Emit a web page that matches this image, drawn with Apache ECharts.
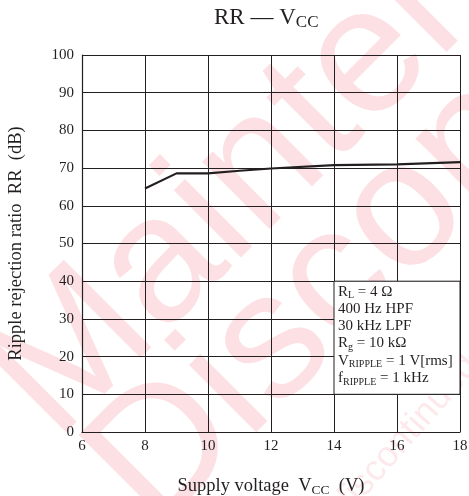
<!DOCTYPE html>
<html>
<head>
<meta charset="utf-8">
<script src="https://cdn.jsdelivr.net/npm/echarts@6/dist/echarts.min.js"></script>
<style>
  html, body { margin: 0; padding: 0; background: #fff; }
  #chart { width: 469px; height: 496px; }
</style>
</head>
<body>
<div id="chart"></div>
<script>
// Supply voltage (V) and measured ripple rejection (dB)
const supplyVoltage = [8, 9, 10, 11, 12, 14, 16, 18];
const rippleRejection = [64.6, 68.6, 68.6, 69.3, 69.9, 70.8, 71.0, 71.6];

// Axis ranges / ticks
const xTicks = { min: 6, max: 18, step: 2 };
const yTicks = { min: 0, max: 100, step: 10 };

// Test-condition box spans VCC 14..18 V and RR 10..40 dB
const conditionBox = { x0: 14, x1: 18, y0: 10, y1: 40 };

const SERIF = '"Liberation Serif", "Times New Roman", serif';
const SANS = '"Liberation Sans", Arial, sans-serif';
const INK = '#231f20';
const STAMP = 'rgba(230,0,30,0.12)';

const chart = echarts.init(document.getElementById('chart'), null, { renderer: 'canvas' });

chart.setOption({
  animation: false,
  backgroundColor: '#fff',
  grid: { left: 82, right: 9, top: 55, bottom: 64, containLabel: false, outerBoundsMode: 'none' },
  xAxis: {
    type: 'value',
    min: xTicks.min, max: xTicks.max, interval: xTicks.step,
    axisLine: { show: true, lineStyle: { color: INK, width: 1.2 } },
    axisTick: { show: false },
    splitLine: { show: true, lineStyle: { color: INK, width: 1 } },
    axisLabel: { color: INK, fontSize: 15, fontFamily: SERIF, margin: 7 },
    name: '{m|Supply voltage  V}{s|CC}{m|  (V)}',
    nameLocation: 'middle',
    nameGap: 44,
    nameTextStyle: {
      rich: {
        m: { fontSize: 18.5, fontFamily: SERIF, color: INK, lineHeight: 20 },
        s: { fontSize: 13.5, fontFamily: SERIF, color: INK, lineHeight: 10, padding: [8, 0, 0, 0] }
      }
    }
  },
  yAxis: {
    type: 'value',
    min: yTicks.min, max: yTicks.max, interval: yTicks.step,
    axisLine: { show: true, lineStyle: { color: INK, width: 1.2 } },
    axisTick: { show: false },
    splitLine: { show: true, lineStyle: { color: INK, width: 1 } },
    axisLabel: { color: INK, fontSize: 15, fontFamily: SERIF, margin: 8 },
    name: 'Ripple rejection ratio  RR  (dB)',
    nameLocation: 'middle',
    nameGap: 56,
    nameTextStyle: { color: INK, fontSize: 18.5, fontFamily: SERIF }
  },
  graphic: [
    {
      type: 'text', left: 214, top: 4, silent: true,
      style: {
        text: '{m|RR — V}{s|CC}',
        rich: {
          m: { fontSize: 23, fontFamily: SERIF, fill: INK, lineHeight: 26 },
          s: { fontSize: 17, fontFamily: SERIF, fill: INK, lineHeight: 14, padding: [10, 0, 0, 0] }
        }
      }
    },
    {
      type: 'text', x: 338, y: 283, silent: true, z: 10,
      style: {
        text: [
          '{m|R}{s|L}{m| = 4 Ω}',
          '{m|400 Hz HPF}',
          '{m|30 kHz LPF}',
          '{m|R}{s|g}{m| = 10 kΩ}',
          '{m|V}{s|RIPPLE}{m| = 1 V[rms]}',
          '{m|f}{s|RIPPLE}{m| = 1 kHz}'
        ].join('\n'),
        rich: {
          m: { fontSize: 15, fontFamily: SERIF, fill: INK, lineHeight: 17.3 },
          s: { fontSize: 10, fontFamily: SERIF, fill: INK, lineHeight: 9, padding: [8, 0, 0, 0] }
        }
      }
    },
    // Lifecycle stamp across the sheet
    {
      type: 'group', silent: true, z: 100,
      children: [
        {
          type: 'text', x: -43, y: 344, rotation: Math.PI / 4,
          style: { text: 'Maintenance', fontSize: 180, fontFamily: SANS, fill: STAMP }
        },
        {
          type: 'text', x: 57, y: 434, rotation: Math.PI / 4,
          style: { text: 'Discontinued', fontSize: 180, fontFamily: SANS, fill: STAMP }
        },
        {
          type: 'text', x: 325, y: 500, rotation: Math.PI * 0.27,
          style: { text: 'discontinued', fontSize: 36, fontFamily: SANS, fill: 'rgba(230,0,30,0.09)' }
        }
      ]
    }
  ],
  series: [
    {
      type: 'line',
      data: supplyVoltage.map((v, i) => [v, rippleRejection[i]]),
      showSymbol: false,
      lineStyle: { color: INK, width: 2.2 },
      z: 5,
      markArea: {
        silent: true,
        itemStyle: { color: '#fff', borderColor: INK, borderWidth: 1 },
        data: [[{ xAxis: conditionBox.x0, yAxis: conditionBox.y0 }, { xAxis: conditionBox.x1, yAxis: conditionBox.y1 }]]
      }
    }
  ]
});
</script>
</body>
</html>
